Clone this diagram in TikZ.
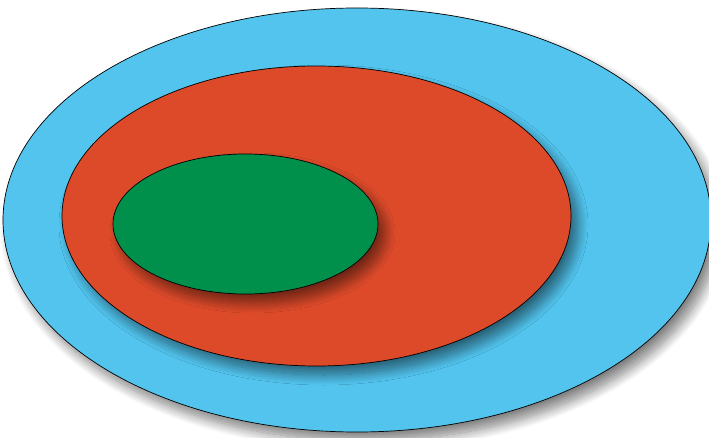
\documentclass[tikz,border=0pt]{standalone}
\usetikzlibrary{shadows.blur}
\definecolor{cblue}{HTML}{52C4EE}
\definecolor{cred}{HTML}{DC4A2A}
\definecolor{cgreen}{HTML}{00904B}
\tikzset{
  setshape/.style={draw=black, line width=0.7pt,
    blur shadow={shadow xshift=7pt, shadow yshift=-9pt, shadow blur radius=10pt, shadow blur steps=16, shadow opacity=50}}
}
\begin{document}
\begin{tikzpicture}[x=1pt,y=-1pt]
\useasboundingbox (0,0) rectangle (709,438);
\path[setshape, fill=cblue] (357,220) ellipse [x radius=354, y radius=212];
\path[setshape, fill=cred] (316.5,216) ellipse [x radius=254.5, y radius=150];
\path[setshape, fill=cgreen] (245.5,224) ellipse [x radius=132.5, y radius=70];
\end{tikzpicture}
\end{document}
